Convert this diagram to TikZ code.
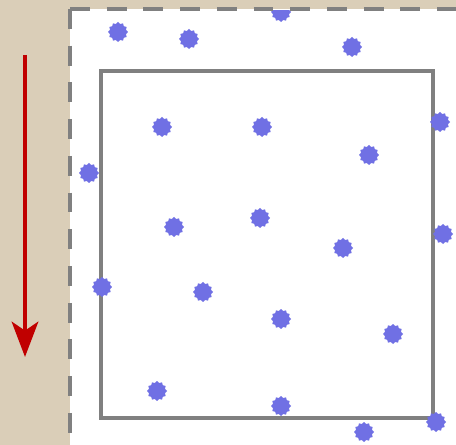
\documentclass[tikz,border=0pt]{standalone}
\usepackage{tikz}
\usetikzlibrary{shapes.geometric, positioning, arrows.meta}
\definecolor{canvas}{RGB}{218,206,184}
\definecolor{germblue}{RGB}{112,112,228}
\definecolor{framegray}{RGB}{128,128,128}
\definecolor{flowred}{RGB}{192,0,0}
\tikzset{
  germ/.style={star, star points=12, star point ratio=1.22, minimum size=0.40cm, inner sep=0pt, fill=germblue, draw=none},
  border/.style={draw=framegray, line width=2.3pt, dash pattern=on 11.3pt off 9.6pt},
  field/.style={draw=framegray, line width=2.3pt},
  flow/.style={draw=flowred, line width=2.8pt, -{Stealth[length=20pt, width=15pt, inset=5pt]}}
}

\begin{document}
\begin{tikzpicture}[x=0.02cm, y=-0.02cm]
        \useasboundingbox (0,0) rectangle (456,445);

        % Fondo
        \fill[canvas] (0,0) rectangle (456,445);
        \fill[white] (70,9) rectangle (456,445);

        % Zona de muestreo
        \draw[field] (101,71) rectangle (433,418);

        % Particulas
        \begin{scope}
        \clip (70,11) rectangle (456,445);
        \node (g1) [germ] at (118,32) {};
        \node (g2) [germ] at (189,39) {};
        \node (g3) [germ] at (281,12) {};
        \node (g4) [germ] at (352,47) {};
        \node (g5) [germ] at (162,127) {};
        \node (g6) [germ] at (262,127) {};
        \node (g7) [germ] at (369,155) {};
        \node (g8) [germ] at (440,122) {};
        \node (g9) [germ] at (89,173) {};
        \node (g10) [germ] at (174,227) {};
        \node (g11) [germ] at (260,218) {};
        \node (g12) [germ] at (443,234) {};
        \node (g13) [germ] at (343,248) {};
        \node (g14) [germ] at (102,287) {};
        \node (g15) [germ] at (203,292) {};
        \node (g16) [germ] at (281,319) {};
        \node (g17) [germ] at (393,334) {};
        \node (g18) [germ] at (157,391) {};
        \node (g19) [germ] at (281,406) {};
        \node (g20) [germ] at (364,432) {};
        \node (g21) [germ] at (436,422) {};
        \end{scope}

        % Borde
        \draw[border] (70,9) -- (70,445);
        \draw[border] (70,9) -- (456,9);

        % Flecha
        \coordinate (top) at (25,55);
        \coordinate (bottom) at (25,357);
        \draw[flow] (top) -- (bottom);

\end{tikzpicture}
\end{document}
